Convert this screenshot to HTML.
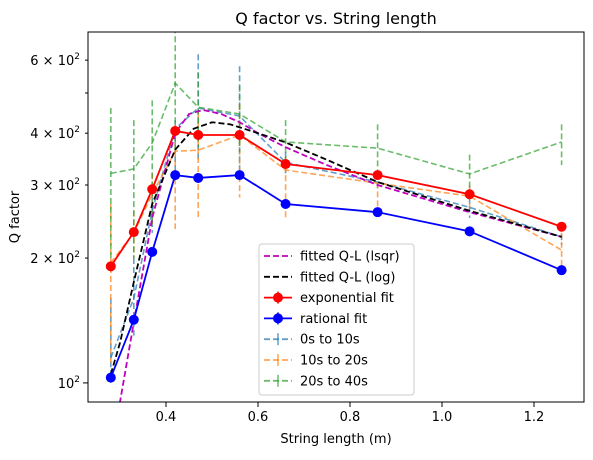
<!DOCTYPE html>
<html><head><meta charset="utf-8"><style>
body{margin:0;background:#fff;}
svg{font-family:"DejaVu Sans","Liberation Sans",sans-serif;}
</style></head><body>
<svg id="chart" width="593" height="455" xmlns="http://www.w3.org/2000/svg">
<rect width="593" height="455" fill="#fff"/>
<text x="336" y="24" font-size="16" text-anchor="middle">Q factor vs. String length</text>
<text x="336" y="443" font-size="13" text-anchor="middle">String length (m)</text>
<text x="19" y="217" font-size="13" text-anchor="middle" transform="rotate(-90 19 217)">Q factor</text>
<defs><clipPath id="clip"><rect x="88" y="32" width="496" height="370"/></clipPath></defs>
<g id="ticks"></g>
<g id="plot" clip-path="url(#clip)"></g>
<rect x="88" y="32" width="496" height="370" fill="none" stroke="#000" stroke-width="1"/>
<g id="legend"></g>
</svg>
<script>
const xs=[0.28,0.33,0.37,0.42,0.47,0.56,0.66,0.86,1.06,1.26];
const expVals=[191,231,293,405,396,396,337,317,285,238];
const ratVals=[103,142,207,317,312,317,270,258,232,187];
const s0Vals=[115,160,260,410,460,440,340,305,265,225];
const s0Hi=[160,200,300,430,620,580,360,320,280,240];
const s0Lo=[100,130,230,320,340,320,320,290,250,215];
const s1Vals=[195,230,285,362,364,396,326,303,282,209];
const s1Hi=[270,260,320,420,450,470,350,320,300,230];
const s1Lo=[110,200,240,235,250,280,250,255,260,190];
const s2Vals=[320,328,379,528,462,445,381,368,319,381];
const s2Hi=[460,430,480,720,560,520,430,420,355,420];
const s2Lo=[200,200,240,360,370,360,330,310,280,335];
const lsqX=[0.28,0.30,0.33,0.37,0.42,0.45,0.48,0.52,0.56,0.60,0.66,0.75,0.86,1.06,1.26];
const lsqY=[60,90,140,250,400,445,455,445,425,400,370,335,300,258,225];
const logX=[0.28,0.30,0.33,0.37,0.42,0.46,0.50,0.54,0.60,0.66,0.75,0.86,1.06,1.26];
const logY=[105,125,175,270,365,410,425,420,400,380,345,305,260,225];
const xTicks=[0.4,0.6,0.8,1.0,1.2];
const xTickLabels=["0.4","0.6","0.8","1.0","1.2"];
const yTicks=[100,200,300,400,500,600];
const yTickLabels=["10","2 × 10","3 × 10","4 × 10","","6 × 10"];

const NS="http://www.w3.org/2000/svg";
const X0=88,X1=584,Y0=32,Y1=402,XMIN=0.2304,XMAX=1.3087,LMIN=1.954,LMAX=2.846;
function sx(v){return X0+(v-XMIN)/(XMAX-XMIN)*(X1-X0);}
function sy(v){return Y1-(Math.log10(v)-LMIN)/(LMAX-LMIN)*(Y1-Y0);}
function mk(tag,attrs,parent){const e=document.createElementNS(NS,tag);for(const k in attrs)e.setAttribute(k,attrs[k]);parent.appendChild(e);return e;}
const plot=document.getElementById('plot'),ticks=document.getElementById('ticks'),leg=document.getElementById('legend');

xTicks.forEach((t,i)=>{
  const l=mk('line',{x1:sx(t),x2:sx(t),y1:Y1,y2:Y1+5,stroke:'#000'},ticks);
  
  
  const tx=mk('text',{x:sx(t),y:Y1+19,'font-size':13,'text-anchor':'middle'},ticks);
  tx.textContent=xTickLabels[i];
  
  
});
yTicks.forEach((t,i)=>{
  const major=(t===100);
  const l=mk('line',{x1:X0-(major?5:3),x2:X0,y1:sy(t),y2:sy(t),stroke:'#000'},ticks);
  
  
  if(yTickLabels[i]){
    const tx=mk('text',{x:X0-8,y:sy(t)+5,'font-size':13,'text-anchor':'end'},ticks);
    
    
    const b=mk('tspan',{},tx);b.textContent=yTickLabels[i];
    const s=mk('tspan',{dy:-6,'font-size':9},tx);s.textContent='2';
  }
});

function poly(xv,yv,color,dash,w,name){
  const p=mk('polyline',{points:xv.map((x,i)=>sx(x)+','+sy(yv[i])).join(' '),fill:'none',stroke:color,'stroke-width':w,'stroke-dasharray':dash||'none'},plot);
  
  
}
function errs(vals,hi,lo,color,name){
  xs.forEach((x,i)=>{
    const l=mk('line',{x1:sx(x),x2:sx(x),y1:sy(hi[i]),y2:sy(lo[i]),stroke:color,'stroke-width':1.6,'stroke-dasharray':'6 3'},plot);
    
    
  });
}
errs(s0Vals,s0Hi,s0Lo,'rgba(31,119,180,0.7)','error-bar-0s-10s');
errs(s1Vals,s1Hi,s1Lo,'rgba(255,127,14,0.7)','error-bar-10s-20s');
errs(s2Vals,s2Hi,s2Lo,'rgba(44,160,44,0.7)','error-bar-20s-40s');
poly(xs,s0Vals,'rgba(31,119,180,0.7)','6 3',1.6,'series-0s-10s');
poly(xs,s1Vals,'rgba(255,127,14,0.7)','6 3',1.6,'series-10s-20s');
poly(xs,s2Vals,'rgba(44,160,44,0.7)','6 3',1.6,'series-20s-40s');
poly(lsqX,lsqY,'#bf00bf','6 3',1.8,'fitted-lsqr-line');
poly(logX,logY,'#000','6 3',1.8,'fitted-log-line');
poly(xs,ratVals,'#0000ff','',1.8,'rational-fit-line');
poly(xs,expVals,'#ff0000','',1.8,'exponential-fit-line');
xs.forEach((x,i)=>{
  const c=mk('circle',{cx:sx(x),cy:sy(ratVals[i]),r:5,fill:'#0000ff'},plot);
  
  
  const d=mk('circle',{cx:sx(x),cy:sy(expVals[i]),r:5,fill:'#ff0000'},plot);
  
  
});

const box=mk('rect',{x:259,y:244,width:155,height:151,rx:3,fill:'rgba(255,255,255,0.8)',stroke:'#ccc'},leg);


const entries=[
 ['fitted Q-L (lsqr)','#bf00bf','dash',0],
 ['fitted Q-L (log)','#000','dash',0],
 ['exponential fit','#ff0000','solid',1],
 ['rational fit','#0000ff','solid',1],
 ['0s to 10s','rgba(31,119,180,0.7)','dash',2],
 ['10s to 20s','rgba(255,127,14,0.7)','dash',2],
 ['20s to 40s','rgba(44,160,44,0.7)','dash',2]];
entries.forEach((e,i)=>{
  const y=256+i*20.8;
  const g=mk('g',{},leg);
  
  
  mk('line',{x1:264,x2:292,y1:y,y2:y,stroke:e[1],'stroke-width':1.8,'stroke-dasharray':e[2]==='dash'?'6 3':'none'},g);
  if(e[3]===1){mk('circle',{cx:278,cy:y,r:5,fill:e[1]},g);mk('line',{x1:278,x2:278,y1:y-6,y2:y+6,stroke:e[1],'stroke-width':1.5},g);}
  if(e[3]===2){mk('line',{x1:278,x2:278,y1:y-6,y2:y+6,stroke:e[1],'stroke-width':1.5},g);}
  const t=mk('text',{x:300,y:y+4.5,'font-size':13},g);t.textContent=e[0];
});
</script>
</body></html>
